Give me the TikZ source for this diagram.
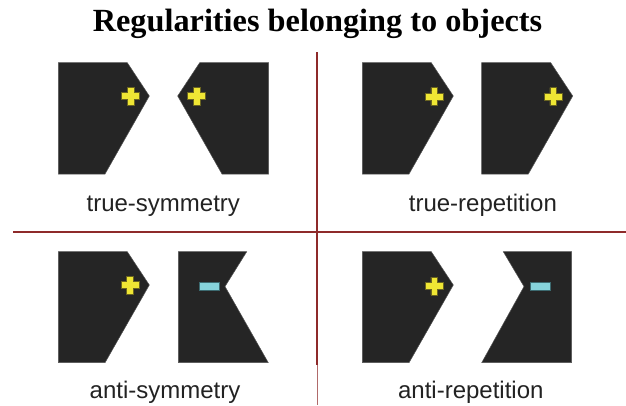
\documentclass[tikz,border=0pt]{standalone}
\usepackage{fontspec}
\setmainfont{Liberation Sans}
\newfontfamily\titlefont{Liberation Serif}
\definecolor{shapefill}{HTML}{252525}
\definecolor{shapeedge}{HTML}{555555}
\definecolor{plusyellow}{HTML}{EFE634}
\definecolor{plusedge}{HTML}{6A6420}
\definecolor{minuscyan}{HTML}{86D3DB}
\definecolor{minusedge}{HTML}{3C6A70}
\definecolor{divider}{HTML}{8E2A2A}
\definecolor{labelgray}{HTML}{222222}
\tikzset{
  shp/.style={fill=shapefill, draw=shapeedge, line width=0.5pt, line join=miter},
  plus/.pic={\filldraw[fill=plusyellow, draw=plusedge, line width=0.5pt]
    (-3.4,-9) -- (3.4,-9) -- (3.4,-3.4) -- (9,-3.4) -- (9,3.4) -- (3.4,3.4)
    -- (3.4,9) -- (-3.4,9) -- (-3.4,3.4) -- (-9,3.4) -- (-9,-3.4) -- (-3.4,-3.4) -- cycle;},
  minus/.pic={\filldraw[fill=minuscyan, draw=minusedge, line width=0.5pt]
    (-10,-4.2) rectangle (10,4.2);},
  lbl/.style={font=\fontsize{24}{28}\selectfont, text=labelgray, anchor=base, inner sep=0pt},
  divline/.style={draw=divider, line width=2pt}
}
\begin{document}
\begin{tikzpicture}[x=1pt,y=-1pt]
\useasboundingbox (0,0) rectangle (626,405);
% title
\node[font=\titlefont\bfseries\fontsize{32.3}{36}\selectfont, anchor=base, inner sep=0pt] (title) at (317.5,31.7) {Regularities belonging to objects};
% dividers
\draw[divline] (13,231.7) -- (626,231.7);
\draw[divline] (316.7,52) -- (316.7,365);
\draw[draw=divider!70, line width=1pt] (317.5,365) -- (317.5,405);
% true-symmetry
\fill[shp] (58.3,62.7) -- (127.3,62.7) -- (149.3,96) -- (105,174) -- (58.3,174) -- cycle;
\fill[shp] (177.7,96) -- (199.7,62.7) -- (268.7,62.7) -- (268.7,174) -- (222,174) -- cycle;
\pic at (130.5,96) {plus};
\pic at (196.5,96) {plus};
\node[lbl] (ts) at (163.3,211.7) {true-symmetry};
% true-repetition
\fill[shp] (362.3,62.7) -- (431.3,62.7) -- (453.3,96) -- (409,174) -- (362.3,174) -- cycle;
\fill[shp] (481.7,62.7) -- (550.7,62.7) -- (572.7,96) -- (528.3,174) -- (481.7,174) -- cycle;
\pic at (434.3,96.5) {plus};
\pic at (553.3,96.5) {plus};
\node[lbl] (tr) at (482.9,211.7) {true-repetition};
% anti-symmetry
\fill[shp] (58.3,251.7) -- (127.3,251.7) -- (149.3,285) -- (105,362.7) -- (58.3,362.7) -- cycle;
\fill[shp] (178.3,251.7) -- (246.7,251.7) -- (225,286.5) -- (268.3,362.7) -- (178.3,362.7) -- cycle;
\pic at (130,285) {plus};
\pic at (209.3,286) {minus};
\node[lbl] (as) at (165,398.3) {anti-symmetry};
% anti-repetition
\fill[shp] (362.3,251.7) -- (431.3,251.7) -- (453.3,285) -- (409,362.7) -- (362.3,362.7) -- cycle;
\fill[shp] (503.3,251.7) -- (571.7,251.7) -- (571.7,362.7) -- (481.7,362.7) -- (524,286.5) -- cycle;
\pic at (434.3,286) {plus};
\pic at (540.7,286) {minus};
\node[lbl] (ar) at (470.8,398.3) {anti-repetition};
\end{tikzpicture}
\end{document}
